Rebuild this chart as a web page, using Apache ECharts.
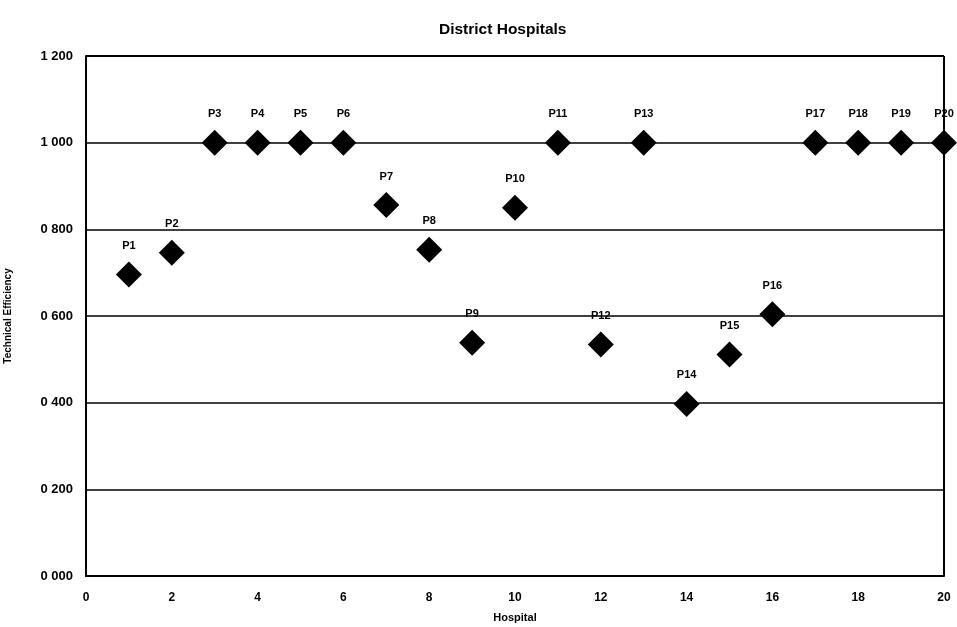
<!DOCTYPE html>
<html><head><meta charset="utf-8">
<script src="https://cdn.jsdelivr.net/npm/echarts@6/dist/echarts.min.js"></script>
<style>html,body{margin:0;padding:0;background:#fff}#c{width:957px;height:627px}</style>
</head><body><div id="c"></div>
<script>
const hospitalLabels = ['P1','P2','P3','P4','P5','P6','P7','P8','P9','P10','P11','P12','P13','P14','P15','P16','P17','P18','P19','P20'];
const hospitalX = [1,2,3,4,5,6,7,8,9,10,11,12,13,14,15,16,17,18,19,20];
const efficiency = [0.696,0.746,1.0,1.0,1.0,1.0,0.856,0.753,0.538,0.850,1.0,0.534,1.0,0.397,0.511,0.604,1.0,1.0,1.0,1.0];
const titleText = 'District Hospitals';
const xAxisName = 'Hospital';
const yAxisName = 'Technical Efficiency';

const chart = echarts.init(document.getElementById('c'));
const font = 'Arial, "Liberation Sans", sans-serif';
chart.setOption({
  animation: false,
  title: { text: titleText, left: 434, top: 17,
    textStyle: { fontFamily: font, fontWeight: 'bold', fontSize: 15.5, color: '#000' } },
  grid: { left: 86, right: 13, top: 56, bottom: 51, containLabel: false, outerBoundsMode: 'none' },
  xAxis: {
    type: 'value', min: 0, max: 20, interval: 2,
    name: xAxisName, nameLocation: 'middle', nameGap: 36,
    nameTextStyle: { fontFamily: font, fontWeight: 'bold', fontSize: 11, color: '#000' },
    axisLine: { show: true, lineStyle: { color: '#000', width: 2 } },
    axisTick: { show: false },
    splitLine: { show: false },
    axisLabel: { fontFamily: font, fontWeight: 'bold', fontSize: 12, color: '#000', margin: 16 }
  },
  yAxis: {
    type: 'value', min: 0, max: 1.2, interval: 0.2,
    name: yAxisName, nameLocation: 'middle', nameGap: 73, nameRotate: 90,
    nameTextStyle: { fontFamily: font, fontWeight: 'bold', fontSize: 10, color: '#000' },
    axisLine: { show: true, lineStyle: { color: '#000', width: 2 } },
    axisTick: { show: false },
    splitLine: { show: true, lineStyle: { color: '#000', width: 1.5 } },
    axisLabel: { fontFamily: font, fontWeight: 'bold', fontSize: 13, color: '#000', margin: 13,
      formatter: v => v.toFixed(3).replace('.', ' ') }
  },
  series: [
    { type: 'line', data: [[0,1.2],[20,1.2]], symbol: 'none', silent: true,
      lineStyle: { color: '#000', width: 2 } },
    { type: 'line', data: [[20,0],[20,1.2]], symbol: 'none', silent: true,
      lineStyle: { color: '#000', width: 2 } },
    {
      type: 'scatter', symbol: 'diamond', symbolSize: 26,
      itemStyle: { color: '#000', opacity: 1 },
      data: hospitalX.map((x, i) => ({ value: [x, efficiency[i]], name: hospitalLabels[i] })),
      label: { show: true, position: 'top', distance: 10, formatter: p => p.name,
        fontFamily: font, fontWeight: 'bold', fontSize: 11, color: '#000' },
      z: 5
    }
  ]
});
</script></body></html>
